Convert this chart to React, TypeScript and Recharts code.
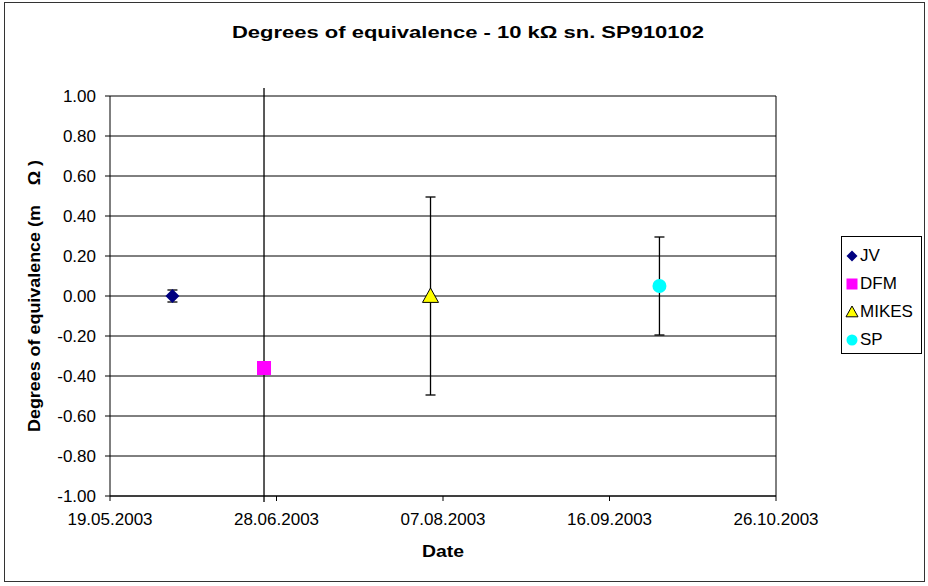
import React from 'react';
import {
  ScatterChart,
  Scatter,
  XAxis,
  YAxis,
  CartesianGrid,
  ErrorBar,
  Legend,
  ReferenceLine,
} from 'recharts';

// data
const labs = ['JV', 'DFM', 'MIKES', 'SP'];
const labDates = ['03.06.2003', '25.06.2003', '04.08.2003', '28.09.2003'];
const labValues = [0.0, -0.36, 0.0, 0.05];
// [minus, plus] extent of the uncertainty bars (DFM runs off the plot)
const labUncert: [number, number][] = [
  [0.03, 0.03],
  [0.67, 1.4],
  [0.495, 0.495],
  [0.245, 0.245],
];
const labColors = ['#000080', '#FF00FF', '#FFFF00', '#00FFFF'];

const xTickLabels = ['19.05.2003', '28.06.2003', '07.08.2003', '16.09.2003', '26.10.2003'];
const yTicks = [-1.0, -0.8, -0.6, -0.4, -0.2, 0.0, 0.2, 0.4, 0.6, 0.8, 1.0];

const FONT = '"Liberation Sans", Arial, sans-serif';

const parseDate = (s: string) => {
  const [d, m, y] = s.split('.').map(Number);
  return Date.UTC(y, m - 1, d);
};

const fmtDate = (t: number) => {
  const d = new Date(t);
  const p = (n: number) => String(n).padStart(2, '0');
  return `${p(d.getUTCDate())}.${p(d.getUTCMonth() + 1)}.${d.getUTCFullYear()}`;
};

const xTicks = xTickLabels.map(parseDate);

const series = labs.map((name, i) => ({
  name,
  color: labColors[i],
  data: [{ x: parseDate(labDates[i]), y: labValues[i], err: labUncert[i] }],
}));

const Marker = ({ kind, cx, cy, s }: { kind: number; cx: number; cy: number; s: number }) => {
  const h = s / 2;
  if (kind === 0)
    return (
      <polygon
        points={`${cx},${cy - h} ${cx + h},${cy} ${cx},${cy + h} ${cx - h},${cy}`}
        fill={labColors[0]}
      />
    );
  if (kind === 1) return <rect x={cx - h} y={cy - h} width={s} height={s} fill={labColors[1]} />;
  if (kind === 2)
    return (
      <polygon
        points={`${cx},${cy - h} ${cx + h},${cy + h * 0.8} ${cx - h},${cy + h * 0.8}`}
        fill={labColors[2]}
        stroke="#000"
        strokeWidth={1}
      />
    );
  return <circle cx={cx} cy={cy} r={h} fill={labColors[3]} />;
};

const LegendBox = () => (
  <div
    style={{
      border: '1px solid #000',
      background: '#fff',
      width: 81,
      height: 118,
      boxSizing: 'border-box',
      padding: '4px 0 0 3px',
      fontFamily: FONT,
      fontSize: 17,
      lineHeight: 1,
    }}
  >
    {labs.map((name, i) => (
      <div key={name} style={{ display: 'flex', alignItems: 'center', height: 28 }}>
        <svg width={15} height={14} style={{ marginRight: 0 }}>
          <Marker kind={i} cx={7} cy={8} s={i === 2 ? 12 : 11} />
        </svg>
        <span>{name}</span>
      </div>
    ))}
  </div>
);

export default function App() {
  return (
    <div style={{ position: 'absolute', left: 0, top: 0, width: 928, height: 586, background: '#fff' }}>
      <div
        style={{
          position: 'absolute',
          left: 4,
          top: 2,
          width: 921,
          height: 580,
          border: '1.5px solid #333',
          boxSizing: 'border-box',
        }}
      />
      <div style={{ position: 'absolute', left: 0, top: 0 }}>
        <ScatterChart
          width={928}
          height={586}
          margin={{ top: 96, right: 152, bottom: 40, left: 0 }}
          style={{ fontFamily: FONT }}
        >
          <text
            x={468}
            y={38}
            textAnchor="middle"
            fontFamily={FONT}
            fontWeight="bold"
            fontSize={16}
            textLength={472}
            lengthAdjust="spacingAndGlyphs"
            fill="#000"
          >
            Degrees of equivalence - 10 kΩ sn. SP910102
          </text>
          <text
            x={443}
            y={557}
            textAnchor="middle"
            fontFamily={FONT}
            fontWeight="bold"
            fontSize={16}
            textLength={42}
            lengthAdjust="spacingAndGlyphs"
            fill="#000"
          >
            Date
          </text>
          <text
            transform="translate(40,296) rotate(-90)"
            textAnchor="middle"
            fontFamily={FONT}
            fontWeight="bold"
            fontSize={16}
            textLength={272}
            lengthAdjust="spacingAndGlyphs"
            fill="#000"
          >
            {'Degrees of equivalence (m\u00a0\u00a0\u00a0\u00a0Ω )'}
          </text>
          <CartesianGrid vertical={false} stroke="#000" strokeWidth={1} />
          <XAxis
            type="number"
            dataKey="x"
            domain={[xTicks[0], xTicks[xTicks.length - 1]]}
            ticks={xTicks}
            tickFormatter={fmtDate}
            stroke="#000"
            tick={{ fill: '#000', fontSize: 17, fontFamily: FONT }}
            tickSize={5}
            tickMargin={12}
            height={50}
          />
          <YAxis
            type="number"
            dataKey="y"
            domain={[-1, 1]}
            ticks={yTicks}
            allowDataOverflow
            tickFormatter={(v: number) => v.toFixed(2)}
            stroke="#000"
            tick={{ fill: '#000', fontSize: 17, fontFamily: FONT }}
            tickSize={5}
            tickMargin={9}
            width={110}
          />
          <ReferenceLine x={xTicks[xTicks.length - 1]} stroke="#000" strokeWidth={1} />
          {series.map((s, i) => (
            <Scatter
              key={s.name}
              name={s.name}
              data={s.data}
              fill={s.color}
              isAnimationActive={false}
              shape={(p: any) => <Marker kind={i} cx={p.cx} cy={p.cy} s={i === 2 ? 16 : 14} />}
            >
              <ErrorBar
                dataKey="err"
                direction="y"
                width={i === 1 ? 0 : 5}
                stroke="#000"
                strokeWidth={1.3}
              />
            </Scatter>
          ))}
          <Legend
            layout="vertical"
            align="center"
            verticalAlign="middle"
            wrapperStyle={{ left: 841, top: 236, width: 81, height: 118 }}
            content={() => <LegendBox />}
          />
        </ScatterChart>
      </div>
    </div>
  );
}
